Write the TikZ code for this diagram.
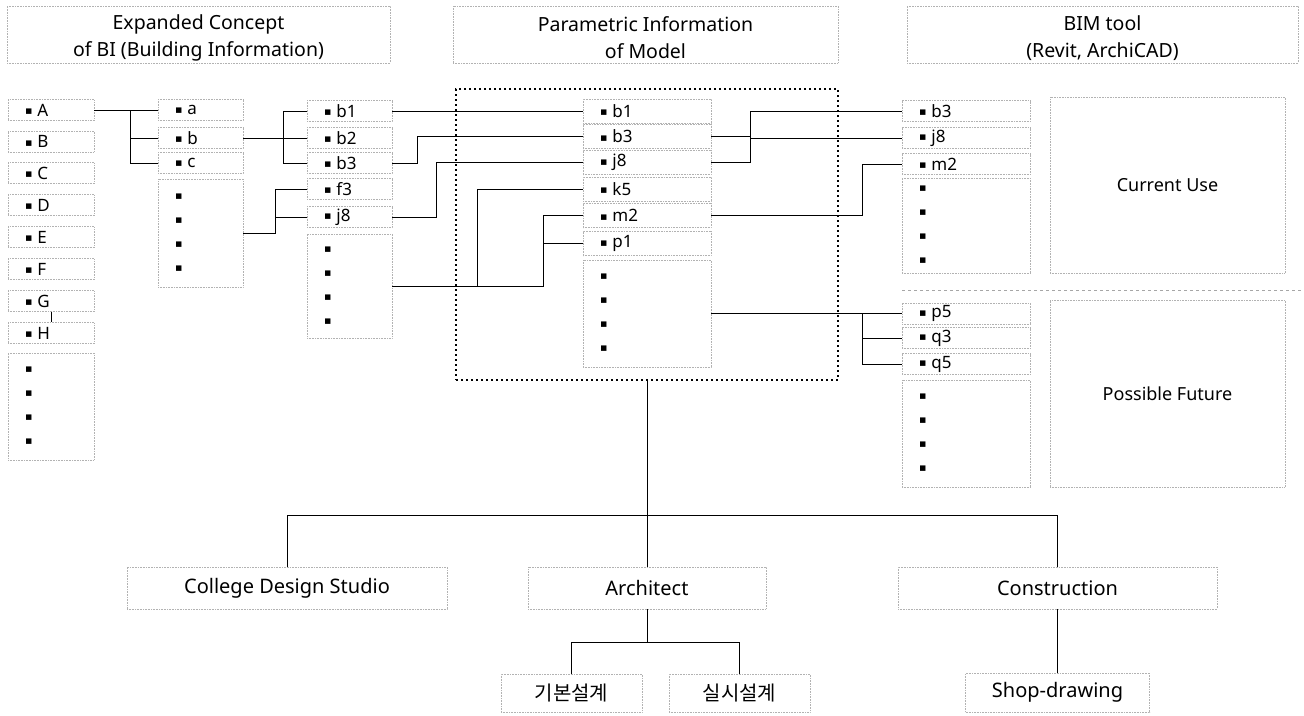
\documentclass[tikz,border=0pt]{standalone}
\usepackage{fontspec}
\setmainfont{Noto Sans}
\newfontfamily\krfont{Noto Sans CJK KR}
\newfontfamily\bulfont{DejaVu Sans}
\newcommand\sqb{\raisebox{1.5pt}{\bulfont\fontsize{11}{11}\selectfont ▪}}

\begin{document}
\begin{tikzpicture}[x=1pt,y=1pt,yscale=-1,
  box/.style={draw=gray!60, densely dotted, line width=0.6pt, inner sep=0pt, align=center},
  head/.style={box, minimum height=57, font=\fontsize{19.5}{27}\selectfont},
  low/.style={box, minimum height=42, font=\fontsize{20}{24}\selectfont},
  item/.style={box, minimum height=21, text width=#1, align=left, inner xsep=17, font=\fontsize{17}{20}\selectfont},
  dots/.style={item=#1, font=\fontsize{17}{24}\selectfont},
  mainbox/.style={draw, line width=1.3pt, dash pattern=on 2pt off 3pt, inner sep=0pt},
  link/.style={line width=0.6pt},
  sep/.style={draw=gray!70, line width=0.8pt, dash pattern=on 3pt off 3pt}]
\useasboundingbox (0,0) rectangle (1304,715);

% Text Node
\node[head, minimum width=383] (hBI) at (198.5,34.5) {\rule{0pt}{22pt}Expanded Concept\\of BI (Building Information)};
% Text Node
\node[head, minimum width=385] (hPar) at (645.5,34.5) {\rule{0pt}{22pt}Parametric Information\\of Model};
% Text Node
\node[head, minimum width=391] (hBIM) at (1102.5,34.5) {\rule{0pt}{22pt}BIM tool\\(Revit, ArchiCAD)};

%Shape: Rectangle
\node[mainbox, minimum width=382, minimum height=291] (par) at (647,234.5) {};

%Shape: Rectangle
\foreach \n/\y in {A/110,B/141.5,C/173,D/205,E/237,F/269,G/301,H/333}
  \node[item=52] (L\n) at (51,\y) {\sqb\kern5pt\n};
\node[dots=52, minimum height=107] (Ldots) at (51,406.5) {\sqb\\\sqb\\\sqb\\\sqb};

%Shape: Rectangle
\foreach \n/\y in {a/110,b/138,c/163}
  \node[item=51] (S\n) at (200.5,\y) {\sqb\kern5pt\n};
\node[dots=51, minimum height=108] (Sdots) at (200.5,233) {\sqb\\\sqb\\\sqb\\\sqb};

%Shape: Rectangle
\foreach \n/\y in {b1/111,b2/138,b3/163,f3/189,j8/217}
  \node[item=51] (T\n) at (349.5,\y) {\sqb\kern5pt\n};
\node[dots=51, minimum height=104] (Tdots) at (349.5,286) {\sqb\\\sqb\\\sqb\\\sqb};

%Shape: Rectangle
\foreach \n/\y in {b1/111,b3/136.5,j8/162.5,k5/189,m2/215.5,p1/243.5}
  \node[item=94, minimum height=24] (M\n) at (647,\y) {\sqb\kern5pt\n};
\node[dots=94, minimum height=107] (Mdots) at (647,313.5) {\sqb\\\sqb\\\sqb\\\sqb};

%Shape: Rectangle
\foreach \n/\y in {b3/111,j8/138,m2/164,p5/313.5,q3/338,q5/364}
  \node[item=94] (R\n) at (966,\y) {\sqb\kern5pt\n};
\node[dots=94, minimum height=95] (Rtop) at (966,225.5) {\sqb\\\sqb\\\sqb\\\sqb};
\node[dots=94, minimum height=107] (Rlow) at (966,433.5) {\sqb\\\sqb\\\sqb\\\sqb};

% Text Node
\node[box, minimum width=235, minimum height=176, font=\fontsize{18}{20}\selectfont] (cur) at (1167.5,185) {Current Use};
% Text Node
\node[box, minimum width=235, minimum height=187, font=\fontsize{18}{20}\selectfont] (fut) at (1167.5,393.5) {Possible Future};
%Straight Lines
\draw[sep] (902,290) -- (1304,290);

% Text Node
\node[low, minimum width=320] (studio) at (287,588) {College Design Studio};
\node[low, minimum width=238] (arch) at (647,588) {Architect};
\node[low, minimum width=319] (cons) at (1057.5,588) {Construction};
\node[low, minimum width=141, minimum height=38] (basic) at (571.5,693) {\krfont 기본설계};
\node[low, minimum width=141, minimum height=38] (detail) at (739.5,693) {\krfont 실시설계};
\node[low, minimum width=184, minimum height=39] (shop) at (1057.5,692.5) {Shop-drawing};

% bus positions
\coordinate (kA) at (130,0);
\coordinate (kB) at (283,0);
\coordinate (kC) at (275,0);
\coordinate (kD) at (417,0);
\coordinate (kE) at (436,0);
\coordinate (kF) at (477,0);
\coordinate (kG) at (543,0);
\coordinate (kH) at (750,0);
\coordinate (kI) at (862,0);
\coordinate (kJ) at (0,515);
\coordinate (kK) at (0,642);

%Straight Lines
\draw[link] (LA.east) -- (Sa.west);
\draw[link] (LA.east -| kA) |- (Sc.west);
\draw[link] (Sb.west) -- (Sb.west -| kA);
\draw[link] (LG.south) -- (LH.north);
%Straight Lines
\draw[link] (Sb.east) -- (Tb2.west);
\draw[link] (Tb1.west) -| (kB |- Tb3.west) -- (Tb3.west);
\draw[link] (Sdots.east) -| (kC |- Tf3.west) -- (Tf3.west);
\draw[link] (Tj8.west) -- (Tj8.west -| kC);
%Straight Lines
\draw[link] (Tb1.east) -- (Mb1.west);
\draw[link] (Tb3.east) -| (kD |- Mb3.west) -- (Mb3.west);
\draw[link] (Tj8.east) -| (kE |- Mj8.west) -- (Mj8.west);
\draw[link] (Tdots.east) -| (kG |- Mm2.west) -- (Mm2.west);
\draw[link] (kF |- Tdots.east) |- (Mk5.west);
\draw[link] (kG |- Mp1.west) -- (Mp1.west);
%Straight Lines
\draw[link] (Mb3.east) -| (kH |- Rb3.west) -- (Rb3.west);
\draw[link] (Mj8.east) -| (kH |- Mb3.east);
\draw[link] (kH |- Rj8.west) -- (Rj8.west);
\draw[link] (Mm2.east) -| (kI |- Rm2.west) -- (Rm2.west);
\draw[link] (Mdots.east) -- (Rp5.west);
\draw[link] (kI |- Rp5.west) |- (Rq5.west);
\draw[link] (kI |- Rq3.west) -- (Rq3.west);
%Straight Lines
\draw[link] (par.south) -- (arch.north);
\draw[link] (studio.north) |- (kJ -| cons.north) -- (cons.north);
\draw[link] (arch.south) -- (arch.south |- kK);
\draw[link] (basic.north) |- (kK -| detail.north) -- (detail.north);
\draw[link] (cons.south) -- (shop.north);

\end{tikzpicture}
\end{document}
